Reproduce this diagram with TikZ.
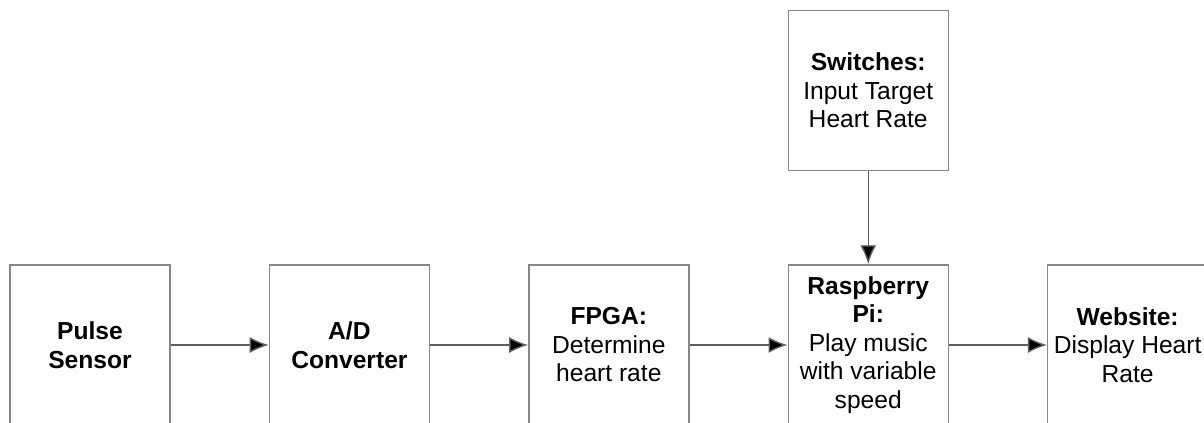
\documentclass[tikz,border=0pt]{standalone}
\usepackage{fontspec}
\setmainfont{Liberation Sans}
\usetikzlibrary{arrows.meta,positioning}
\definecolor{boxgray}{RGB}{135,135,135}
\definecolor{arrgray}{RGB}{95,95,95}

\begin{document}
\begin{tikzpicture}[>={Latex[length=0.38cm,width=0.32cm]}, node distance=1.96cm]
        \tikzset{block/.style= {draw=boxgray, line width=0.8pt, rectangle, align=center,
                minimum width=3.2cm, minimum height=3.2cm, inner sep=1pt,
                font=\fontsize{14}{16.2}\selectfont},
        link/.style={draw=arrgray, line width=0.8pt, ->}
        }
        \useasboundingbox (0,0) rectangle (24.08,8.46);
        \clip (0,0) rectangle (24.08,8.46);
        \node [block] at (1.8,1.56) (sensor) {\textbf{Pulse}\\\textbf{Sensor}};
        \node [block, right=of sensor] (adc) {\textbf{A/D}\\\textbf{Converter}};
        \node [block, right=of adc] (fpga) {\textbf{FPGA:}\\Determine\\heart rate};
        \node [block, right=of fpga] (rpi) {\textbf{Raspberry}\\\textbf{Pi:}\\Play music\\with variable\\speed};
        \node [block, right=of rpi] (web) {\textbf{Website:}\\Display Heart\\Rate};
        \node [block, above=1.86cm of rpi] (switch) {\textbf{Switches:}\\Input Target\\Heart Rate};
%% paths
        \path[link] (sensor) edge (adc)
                    (adc) edge (fpga)
                    (fpga) edge (rpi)
                    (rpi) edge (web)
                    (switch) edge (rpi)
                    ;
    \end{tikzpicture}
\end{document}
